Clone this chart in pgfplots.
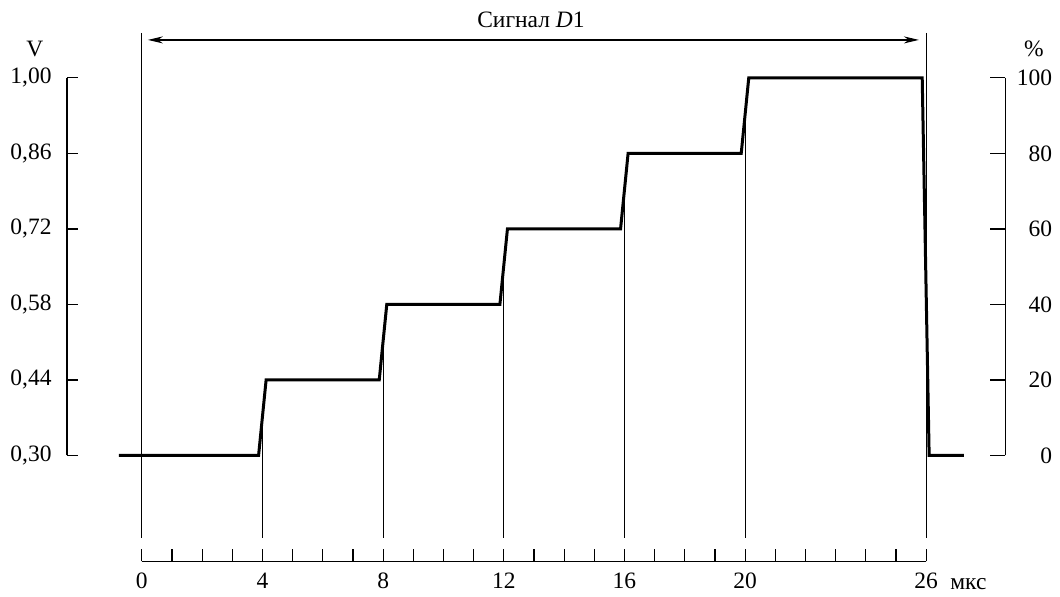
\documentclass[border=0pt]{standalone}
\usepackage{fontspec}
\setmainfont{Liberation Serif}
\usepackage{pgfplots}
\pgfplotsset{compat=1.18}
\usetikzlibrary{arrows.meta}
\begin{document}
\fontsize{11.75}{14}\selectfont
\begin{tikzpicture}
\begin{axis}[name=main, x=15.1pt, y=270pt,
  xmin=-2.483, xmax=28.63, ymin=0.3, ymax=1.0, clip=false,
  axis x line=none, axis y line*=left,
  axis line style={-, line width=0.6pt, black},
  ytick={0.30,0.44,0.58,0.72,0.86,1.00},
  yticklabels={{0,30},{0,44},{0,58},{0,72},{0,86},{1,00}},
  tick align=inside, major tick length=5.5pt,
  tick style={line width=0.6pt, black},
  yticklabel style={xshift=-3.6pt}]
  % bounding box
  \path (axis cs:-4.702,1.1444) rectangle (axis cs:30.397,0.0389);
  \coordinate (xo) at (axis cs:0,0.1037);
  % vertical guide lines
  \draw[line width=0.6pt] (axis cs:0,1.0833) -- (axis cs:0,0.1463);
  \draw[line width=0.6pt] (axis cs:26,1.0833) -- (axis cs:26,0.1463);
  \draw[line width=0.6pt] (axis cs:4,0.37) -- (axis cs:4,0.1463);
  \draw[line width=0.6pt] (axis cs:8,0.51) -- (axis cs:8,0.1463);
  \draw[line width=0.6pt] (axis cs:12,0.65) -- (axis cs:12,0.1463);
  \draw[line width=0.6pt] (axis cs:16,0.79) -- (axis cs:16,0.1463);
  \draw[line width=0.6pt] (axis cs:20,0.93) -- (axis cs:20,0.1463);
  % arrow and title
  \draw[line width=0.8pt, {Stealth[length=7.5pt,width=3.5pt]}-{Stealth[length=7.5pt,width=3.5pt]}]
     (axis cs:0.2,1.0704) -- (axis cs:25.76,1.0704);
  \node[anchor=base, inner sep=0pt] at (axis cs:12.9,1.0926) {Сигнал \textit{D}1};
  \node[anchor=base, inner sep=0pt] at (axis cs:-3.543,1.0389) {V};
  \node[anchor=base, inner sep=0pt] at (axis cs:29.57,1.0389) {\%};
  \node[anchor=base, inner sep=0pt] at (axis cs:27.40,0.0519) {мкс};
  % signal
  \addplot[line width=1.5pt, black, no marks] coordinates {
    (-0.76,0.30) (3.87,0.30) (4.12,0.44) (7.87,0.44) (8.12,0.58)
    (11.87,0.58) (12.12,0.72) (15.87,0.72) (16.12,0.86) (19.87,0.86)
    (20.12,1.00) (25.87,1.00) (26.1,0.30) (27.25,0.30)};
\end{axis}
\begin{axis}[x=15.1pt, y=1.89pt,
  xmin=-2.483, xmax=28.63, ymin=0, ymax=100,
  axis x line=none, axis y line*=right,
  axis line style={-, line width=0.6pt, black},
  ytick={0,20,40,60,80,100},
  yticklabels={0,20,40,60,80,100},
  tick align=inside, major tick length=7.5pt,
  tick style={line width=0.6pt, black},
  yticklabel style={anchor=east, xshift=27.5pt}]
\end{axis}
\begin{axis}[at={(xo)}, anchor=south west, x=15.1pt, y=10pt,
  xmin=0, xmax=26, ymin=0, ymax=1,
  axis y line=none, axis x line*=bottom,
  axis line style={-, line width=0.6pt, black},
  xtick={0,4,8,12,16,20,26},
  xticklabels={0,4,8,12,16,20,26},
  minor xtick={0,1,...,26},
  tick align=inside, major tick length=6pt, minor tick length=6pt,
  tick style={line width=0.6pt, black},
  xticklabel style={yshift=-1.6pt}]
\end{axis}
\end{tikzpicture}
\end{document}
